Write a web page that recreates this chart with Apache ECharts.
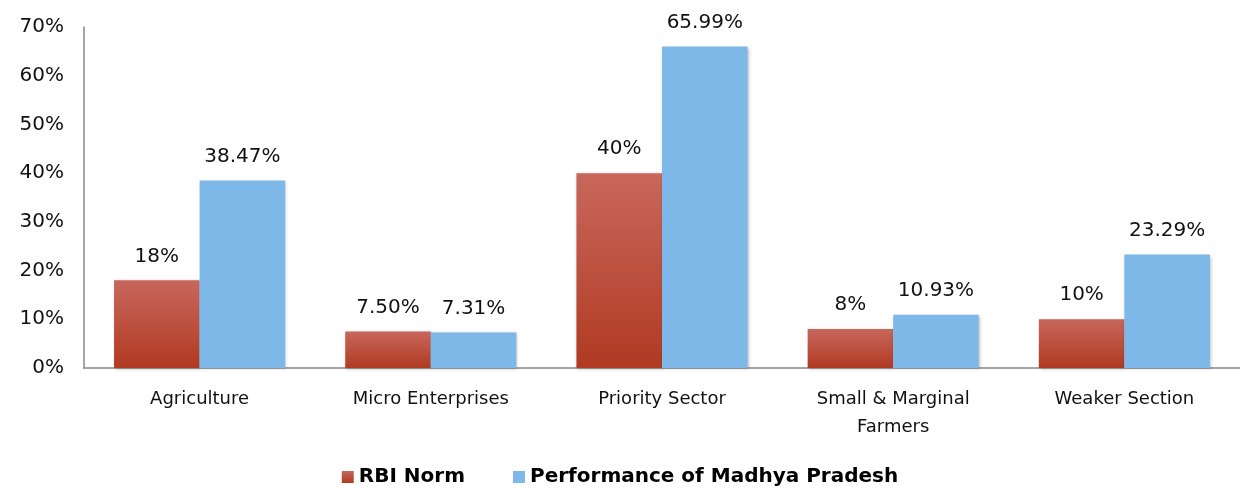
<!DOCTYPE html>
<html><head><meta charset="utf-8">
<script src="https://cdn.jsdelivr.net/npm/echarts@6/dist/echarts.min.js"></script>
<style>html,body{margin:0;padding:0;background:#fff}#c{width:1240px;height:495px}</style>
</head><body><div id="c"></div>
<script>
const categories = ['Agriculture','Micro Enterprises','Priority Sector','Small & Marginal\nFarmers','Weaker Section'];
const rbiNorm = [18, 7.5, 40, 8, 10];
const mpPerformance = [38.47, 7.31, 65.99, 10.93, 23.29];
const seriesNames = ['RBI Norm','Performance of Madhya Pradesh'];
const FONT = '"DejaVu Sans", sans-serif';
function fmt(v){ return (Number.isInteger(v) ? v : v.toFixed(2)) + '%'; }
const chart = echarts.init(document.getElementById('c'));
chart.setOption({
  animation:false,
  textStyle:{fontFamily:FONT},
  grid:{left:84,right:0,top:27,bottom:127},
  legend:{bottom:3,left:'center',icon:'rect',itemWidth:12,itemHeight:12,itemGap:48,
    textStyle:{fontSize:20,fontWeight:'bold',color:'#000',fontFamily:FONT},
    data:seriesNames},
  xAxis:{type:'category',data:categories,
    axisLine:{lineStyle:{color:'#888',width:1.5}},axisTick:{show:false},
    axisLabel:{fontSize:18,color:'#111',margin:17,lineHeight:28,interval:0}},
  yAxis:{type:'value',min:0,max:70,interval:10,
    axisLine:{show:true,lineStyle:{color:'#888',width:1.5}},axisTick:{show:false},splitLine:{show:false},
    axisLabel:{fontSize:20,color:'#111',margin:20,formatter:v=>v+'%'}},
  series:[
    {name:seriesNames[0],type:'bar',data:rbiNorm,barGap:'0%',barCategoryGap:'26%',
      itemStyle:{color:new echarts.graphic.LinearGradient(0,0,0,1,[{offset:0,color:'#c8675c'},{offset:1,color:'#b03a22'}]),
        shadowColor:'rgba(0,0,0,0.25)',shadowBlur:3,shadowOffsetX:1,shadowOffsetY:1},
      label:{show:true,position:'top',distance:14,fontSize:20,color:'#111',formatter:p=>fmt(p.value)}},
    {name:seriesNames[1],type:'bar',data:mpPerformance,
      itemStyle:{color:'#7db8e8',shadowColor:'rgba(0,0,0,0.25)',shadowBlur:3,shadowOffsetX:1,shadowOffsetY:1},
      label:{show:true,position:'top',distance:14,fontSize:20,color:'#111',formatter:p=>fmt(p.value)}}
  ]
});
</script></body></html>
